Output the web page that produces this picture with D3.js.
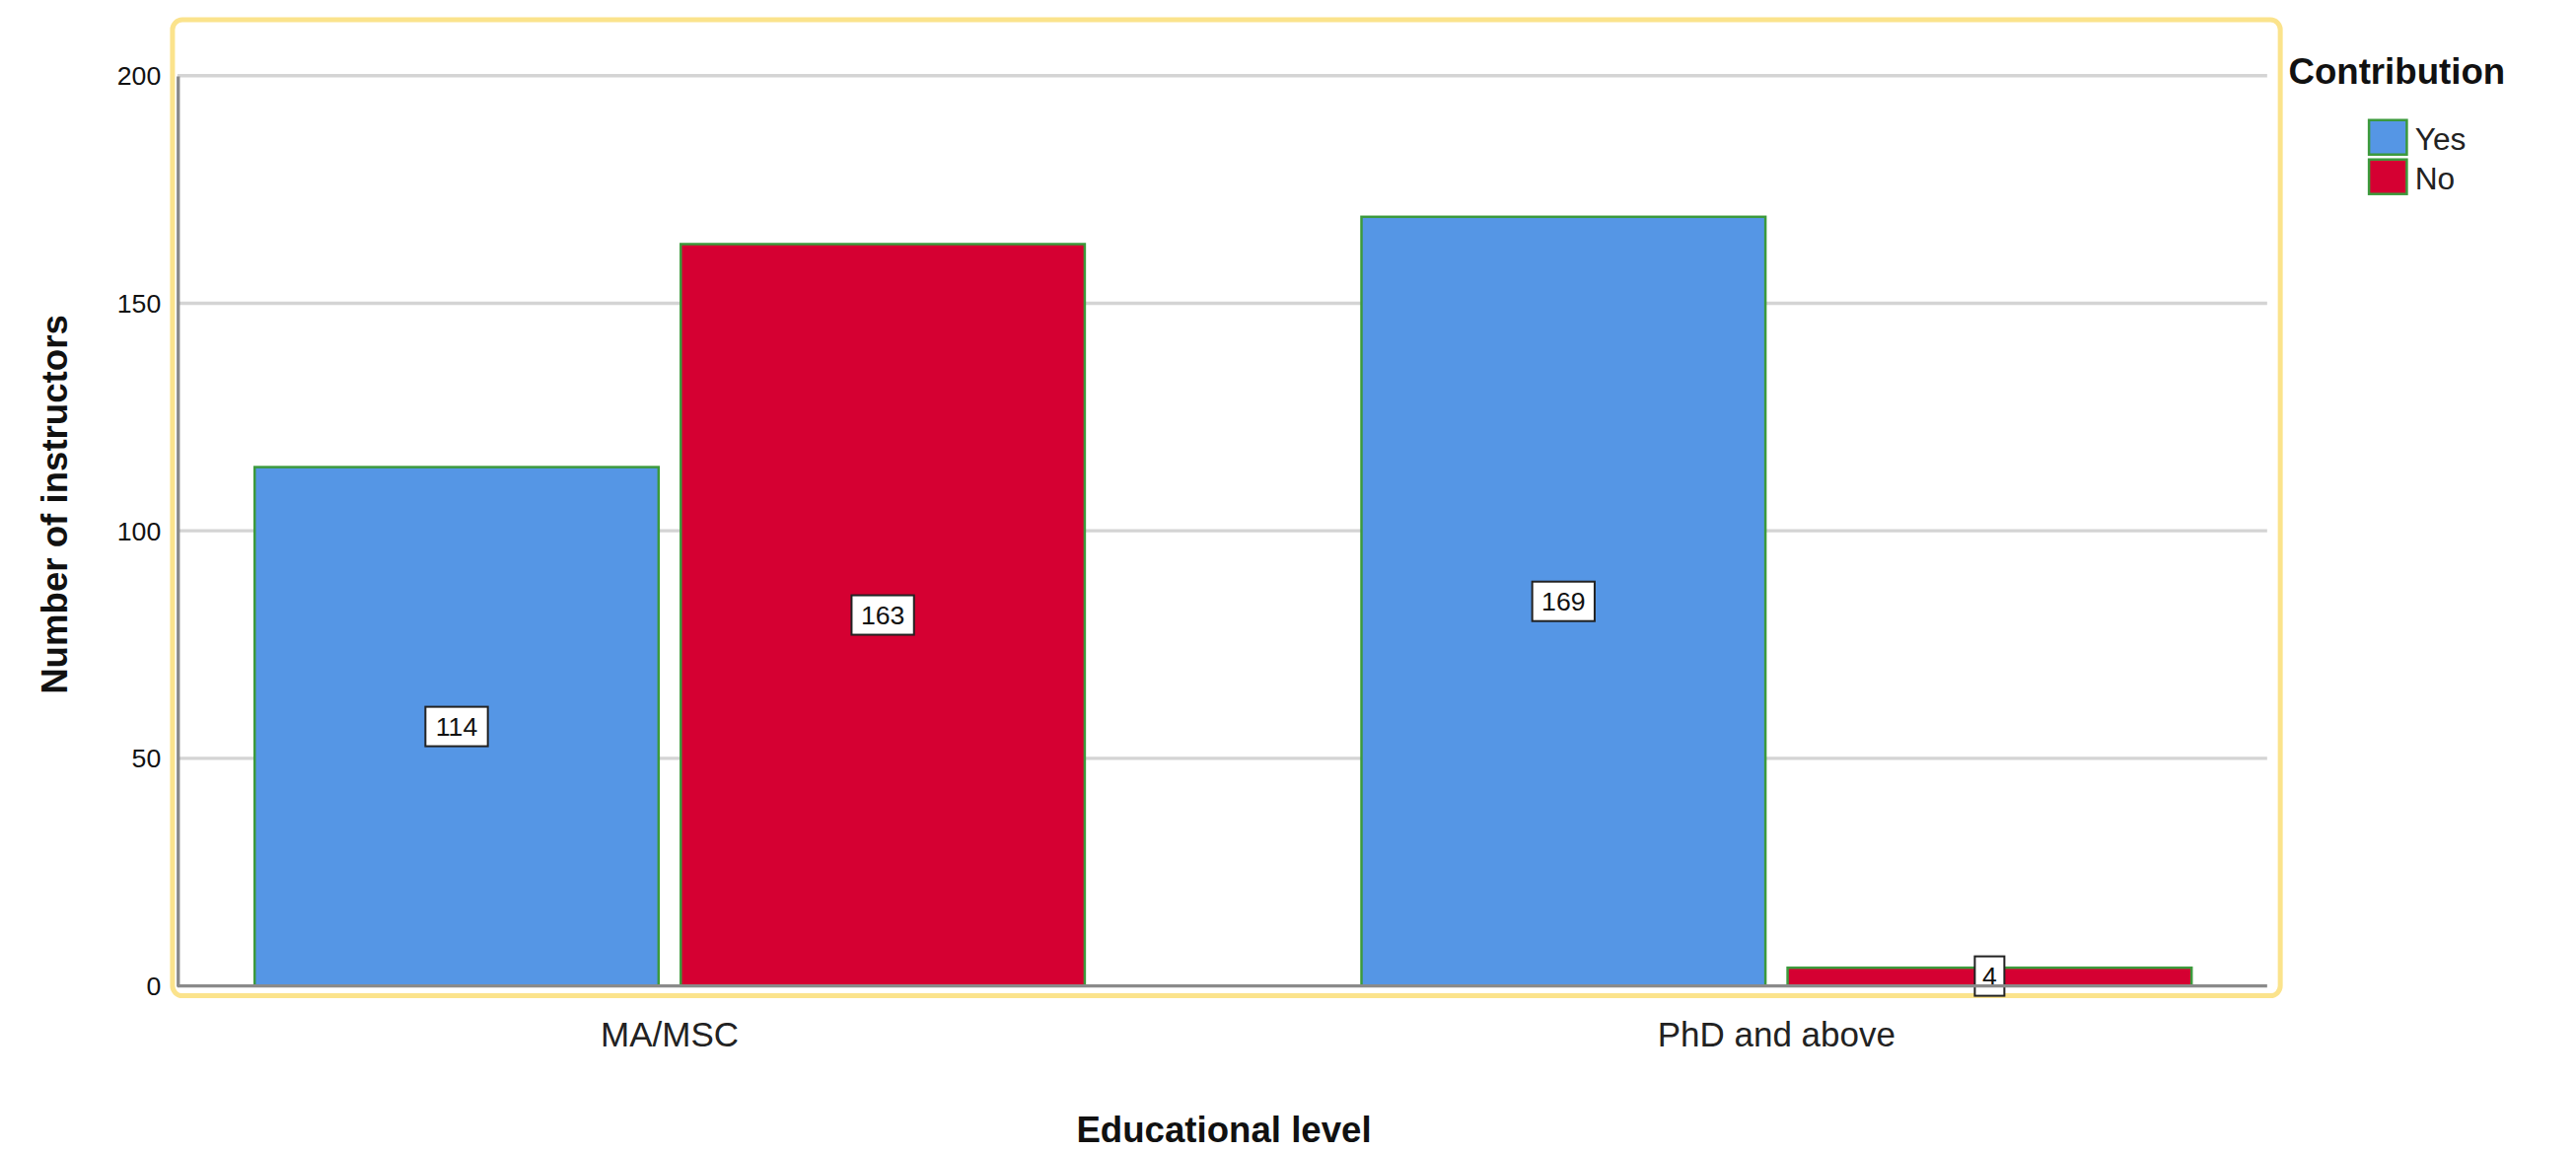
<!DOCTYPE html>
<html><head><meta charset="utf-8">
<script src="https://cdn.jsdelivr.net/npm/d3@7"></script>
<style>body{margin:0;background:#fff}svg{display:block}text{font-family:"Liberation Sans",Arial,sans-serif}</style>
</head><body>
<script>
const categories = ["MA/MSC", "PhD and above"];
const seriesNames = ["Yes", "No"];
const yesValues = [114, 169];
const noValues = [163, 4];
const yTicks = [0, 50, 100, 150, 200];
const colors = {Yes: "#5596E5", No: "#D50032"};

const W = 1568, H = 701;
const svg = d3.select("body").append("svg").attr("width", 2612).attr("height", 1168)
  .attr("viewBox", `0 0 ${W} ${H}`);

const pLeft = 108, pRight = 1380, pBottom = 600;
const y = d3.scaleLinear().domain([0, 200]).range([pBottom, 46]);
const x0 = d3.scaleBand().domain(categories).range([155, 1334]).paddingInner(0.25).paddingOuter(0);
const x1 = d3.scaleBand().domain(seriesNames).range([0, x0.bandwidth()]).paddingInner(0.052);

svg.append("rect").attr("x", 105).attr("y", 12).attr("width", 1283).attr("height", 594)
  .attr("rx", 6).attr("fill", "none").attr("stroke", "#FBE38C").attr("stroke-width", 3);

svg.append("g").selectAll("line").data(yTicks.filter(d => d > 0)).join("line")
  .attr("x1", pLeft).attr("x2", pRight).attr("y1", d => y(d)).attr("y2", d => y(d))
  .attr("stroke", "#D4D4D4").attr("stroke-width", 2);

const ya = svg.append("g").attr("transform", `translate(${pLeft},0)`)
  .call(d3.axisLeft(y).tickValues(yTicks).tickSize(0).tickPadding(10));
ya.select(".domain").attr("stroke", "#8a8a8a").attr("stroke-width", 2);
ya.selectAll("text").attr("font-size", 16).attr("fill", "#111");

const data = categories.map((c, i) => ({c, vals: [{s: "Yes", v: yesValues[i]}, {s: "No", v: noValues[i]}]}));
const g = svg.append("g").selectAll("g").data(data).join("g")
  .attr("transform", d => `translate(${x0(d.c)},0)`);
g.selectAll("rect").data(d => d.vals).join("rect")
  .attr("x", d => x1(d.s)).attr("width", x1.bandwidth())
  .attr("y", d => y(d.v)).attr("height", d => y(0) - y(d.v))
  .attr("fill", d => colors[d.s]).attr("stroke", "#3C9A3C").attr("stroke-width", 1.5);

svg.append("line").attr("x1", pLeft).attr("x2", pRight).attr("y1", y(0)).attr("y2", y(0))
  .attr("stroke", "#8a8a8a").attr("stroke-width", 2);

const lab = g.selectAll("g.lab").data(d => d.vals).join("g").attr("class", "lab")
  .attr("transform", d => `translate(${x1(d.s) + x1.bandwidth() / 2},${d.v > 10 ? y(d.v / 2) : y(0) - 6})`);
lab.append("rect").attr("x", d => -(String(d.v).length * 5 + 4)).attr("y", -12)
  .attr("width", d => String(d.v).length * 10 + 8).attr("height", 24)
  .attr("fill", "#fff").attr("stroke", "#222").attr("stroke-width", 1.2);
lab.append("text").attr("text-anchor", "middle").attr("dy", "0.35em").attr("font-size", 16)
  .attr("fill", "#111").text(d => d.v);

svg.append("g").selectAll("text").data(categories).join("text")
  .attr("x", d => x0(d) + x0.bandwidth() / 2).attr("y", 637).attr("text-anchor", "middle")
  .attr("font-size", 21).attr("fill", "#222").text(d => d);

svg.append("text").attr("x", 745).attr("y", 695).attr("text-anchor", "middle")
  .attr("font-size", 22).attr("font-weight", "bold").attr("fill", "#111").text("Educational level");
svg.append("text").attr("transform", "translate(41,307) rotate(-90)").attr("text-anchor", "middle")
  .attr("font-size", 22).attr("font-weight", "bold").attr("fill", "#111").text("Number of instructors");

svg.append("text").attr("x", 1393).attr("y", 51).attr("font-size", 22).attr("font-weight", "bold")
  .attr("fill", "#111").text("Contribution");
const lg = svg.append("g").selectAll("g").data(seriesNames).join("g")
  .attr("transform", (d, i) => `translate(1442,${73 + i * 24})`);
lg.append("rect").attr("width", 23).attr("height", 21).attr("fill", d => colors[d])
  .attr("stroke", "#3C9A3C").attr("stroke-width", 1.5);
lg.append("text").attr("x", 28).attr("y", 18).attr("font-size", 19).attr("fill", "#222").text(d => d);
</script>
</body></html>
